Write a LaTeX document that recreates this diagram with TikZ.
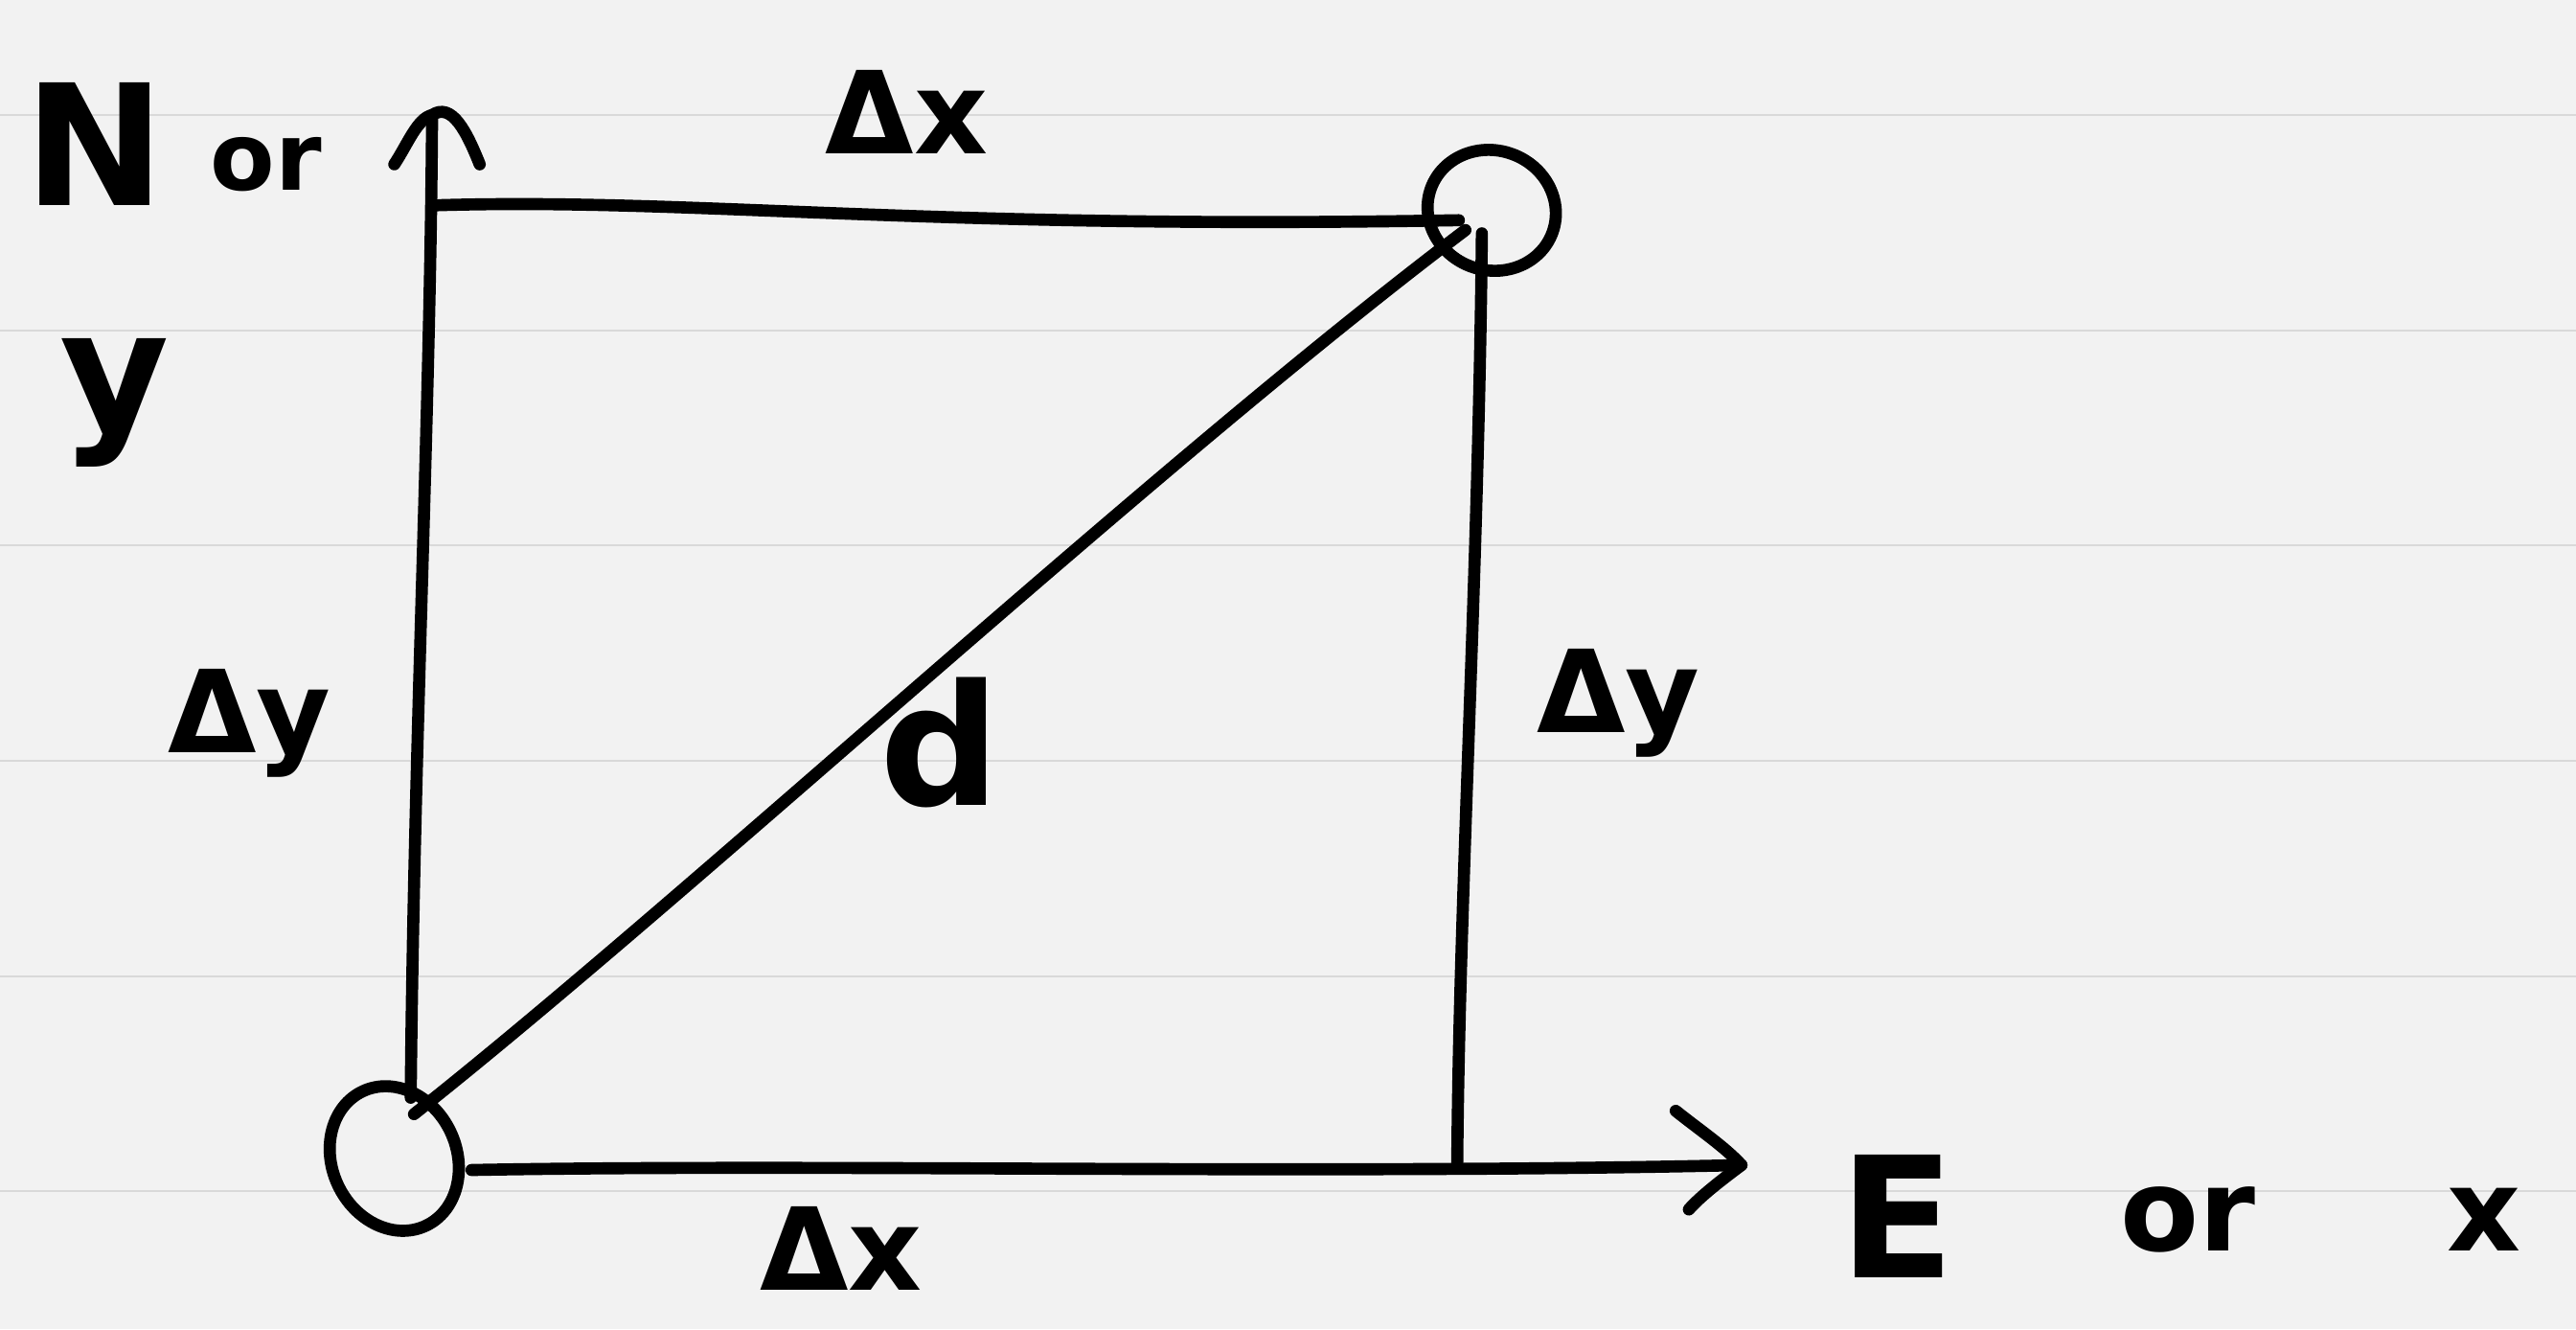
\documentclass[tikz,border=0pt]{standalone}
\usepackage{fontspec}
\setmainfont{DejaVu Sans}
\usetikzlibrary{shapes.geometric}
\definecolor{paper}{HTML}{F2F2F2}
\definecolor{ruled}{HTML}{D9D9D9}
\begin{document}
\begin{tikzpicture}[x=0.01715cm,y=-0.01715cm,
  pen/.style={line width=3.6pt,line cap=round,line join=round},
  dot/.style={draw,ellipse,line width=3.6pt,inner sep=0pt},
  lbl/.style={inner sep=0pt,font=\fontsize{34}{34}\bfseries},
  big/.style={inner sep=0pt,font=\fontsize{50}{50}\bfseries},
  small/.style={inner sep=0pt,font=\fontsize{28}{28}\bfseries}]
\fill[paper] (0,0) rectangle (1568,809);
\useasboundingbox (0,0) rectangle (1568,809);
\foreach \yy in {70,201,332,463,594,725}
  \draw[ruled,line width=0.6pt] (0,\yy) -- (1568,\yy);
% points
\node[dot,minimum width=1.3cm,minimum height=1.55cm,rotate=25] (P) at (240,705) {};
\node[dot,minimum width=1.35cm,minimum height=1.25cm,rotate=-20] (Q) at (908,128) {};
\coordinate (O) at (250,668);
\coordinate (Ytip) at (263,70);
\coordinate (TL) at (263,125);
\coordinate (TR) at (888,134);
\coordinate (RT) at (902,142);
\coordinate (BR) at (887,711);
\coordinate (Xs) at (287,712);
\coordinate (Xtip) at (1060,709);
\coordinate (Dstart) at (252,678);
\coordinate (Dend) at (892,140);
% y axis
\draw[pen] (O) .. controls (252,450) and (262,250) .. (Ytip);
\draw[pen] (240,100) .. controls (248,88) and (254,72) .. (Ytip)
  .. controls (275,62) and (284,80) .. (292,100);
% top side
\draw[pen] (TL) .. controls (420,120) and (560,140) .. (TR);
% right side
\draw[pen] (RT) .. controls (900,350) and (888,550) .. (BR);
% diagonal
\draw[pen] (Dstart) .. controls (420,545) and (700,285) .. (Dend);
% x axis
\draw[pen] (Xs) .. controls (500,708) and (800,715) .. (Xtip);
\draw[pen] (1020,676) .. controls (1035,688) and (1050,698) .. (Xtip)
  .. controls (1048,718) and (1035,728) .. (1028,736);
% labels
\node[big] (N) at (58,88) {N};
\node[small] (or1) at (162,100) {or};
\node[big] (y1) at (70,245) {y};
\node[lbl] (dxt) at (552,68) {Δx};
\node[lbl] (dyl) at (152,440) {Δy};
\node[lbl] (dyr) at (985,428) {Δy};
\node[big] (d) at (572,452) {d};
\node[lbl] (dxb) at (512,760) {Δx};
\node[big] (E) at (1155,740) {E};
\node[lbl] (or2) at (1332,742) {or};
\node[lbl] (x2) at (1512,742) {x};
\end{tikzpicture}
\end{document}
